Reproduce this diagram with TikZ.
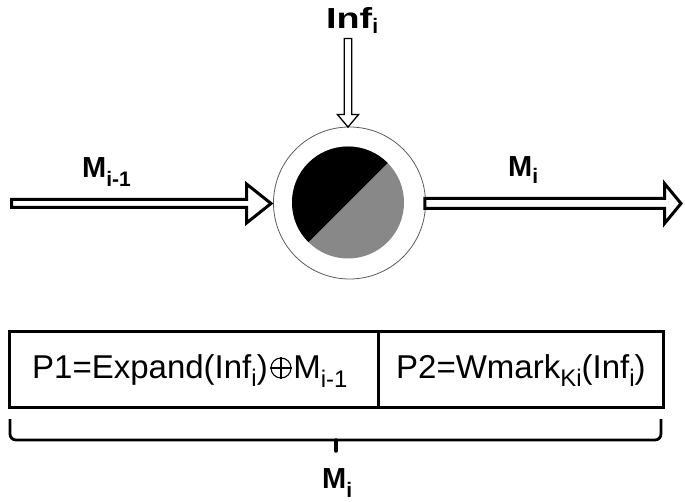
\documentclass[tikz,border=0pt]{standalone}
\usepackage{fontspec}
\usepackage{graphicx}
\setmainfont{Liberation Sans}
\usetikzlibrary{calc}
\definecolor{diskgray}{RGB}{136,136,136}
\definecolor{ringgray}{RGB}{90,90,90}
\newcommand\lowsub[3]{\raisebox{-#1pt}{\fontsize{#2}{#2}\selectfont #3}}
\begin{document}
\begin{tikzpicture}[x=1pt,y=-1pt,
  lbl/.style={inner sep=0, anchor=base west, font=\fontsize{29}{29}\selectfont\bfseries},
  boxtxt/.style={inner sep=0, anchor=base west, font=\fontsize{33}{33}\selectfont},
  blockarrow/.style={draw=black, fill=white, line width=3pt, line join=miter},
  thinarrow/.style={draw=black, fill=white, line width=1.3pt, line join=miter},
  cell/.style={draw=black, line width=2.7pt, inner sep=0, anchor=north west},
  xorline/.style={draw=black, line width=1.1pt},
  bracel/.style={draw=black, line width=2.8pt, rounded corners=6pt}]
\useasboundingbox (0,0) rectangle (685,502);

% central mixer
\node[circle, draw=ringgray, line width=0.8pt, minimum size=152pt, inner sep=0] (mix) at (349.5,203) {};
\coordinate (dc) at (348,202.5);
\fill[diskgray] (dc) circle (56);
\begin{scope}
  \clip (dc) circle (56);
  \fill[black] ($(dc)+(-90,90)$) -- ($(dc)+(90,-90)$) -- ($(dc)+(-90,-90)$) -- cycle;
\end{scope}

% free ends
\coordinate (inL) at (11.5,203.5);
\coordinate (outR) at (681,203.5);
\coordinate (inT) at (348,38.5);

% left arrow into mixer
\coordinate (tipL) at (271,203.5);
\draw[blockarrow] ($(inL)+(0,-4)$) -- ($(tipL)+(-24.5,-4)$) -- ($(tipL)+(-24.5,-19.5)$)
  -- (tipL) -- ($(tipL)+(-24.5,19.5)$) -- ($(tipL)+(-24.5,4)$) -- ($(inL)+(0,4)$) -- cycle;

% right arrow out of mixer
\coordinate (srcR) at ($(mix.east)+(-1,0.5)$);
\draw[blockarrow] ($(srcR)+(0,-5)$) -- ($(outR)+(-16.5,-5)$) -- ($(outR)+(-16.5,-20)$)
  -- (outR) -- ($(outR)+(-16.5,20)$) -- ($(outR)+(-16.5,5)$) -- ($(srcR)+(0,5)$) -- cycle;

% top arrow into mixer
\coordinate (tipT) at ($(mix.north)+(-1.5,0.5)$);
\draw[thinarrow] ($(inT)+(-3.8,0)$) -- ($(tipT)+(-3.8,-12.5)$) -- ($(tipT)+(-10.5,-12.5)$)
  -- (tipT) -- ($(tipT)+(10.5,-12.5)$) -- ($(tipT)+(3.8,-12.5)$) -- ($(inT)+(3.8,0)$) -- cycle;

% labels
\node[lbl] (inf) at (326,29) {\scalebox{1.3}[1]{Inf}\lowsub{5}{21}{i}};
\node[lbl] (mprev) at (82,178) {M\lowsub{9}{21}{i-1}};
\node[lbl] (mnext) at (508,177) {M\lowsub{7}{21}{i}};

% message cells
\node[cell, minimum width=369pt, minimum height=76pt] (p1) at (8,330) {};
\node[cell, minimum width=285pt, minimum height=76pt] (p2) at (377,330) {};
\node[boxtxt] (t1a) at (32,378) {P1=Expand(Inf\lowsub{8}{24}{i})};
\node[circle, xorline, minimum size=20pt, inner sep=0, anchor=west] (xo) at ($(t1a.base east)+(2.5,-10)$) {};
\draw[xorline] (xo.north) -- (xo.south) (xo.west) -- (xo.east);
\node[boxtxt] (t1b) at ($(xo.east |- t1a.base)+(1.5,0)$) {M\lowsub{9}{24}{i-1}};
\node[boxtxt] (t2) at (396,378) {P2=Wmark\lowsub{8}{24}{Ki}(Inf\lowsub{8}{24}{i})};

% brace
\coordinate (bl) at (10,419);
\coordinate (br) at (661,419);
\coordinate (bm) at (336,440);
\coordinate (btip) at (336,451);
\draw[bracel] (bl) |- (bm);
\draw[bracel] (br) |- (bm);
\draw[draw=black, line width=3.5pt, line cap=round] (bm) -- (btip);

\node[lbl] (mall) at (322,488) {M\lowsub{9}{21}{i}};
\end{tikzpicture}
\end{document}
